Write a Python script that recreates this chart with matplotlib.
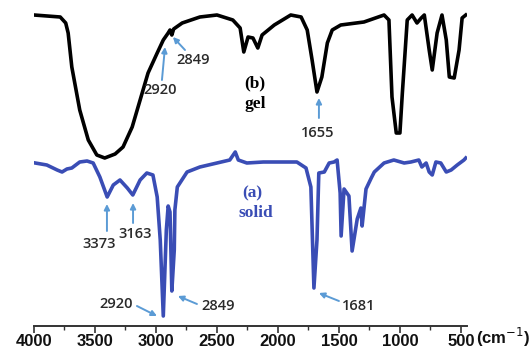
import matplotlib
matplotlib.use("Agg")
import matplotlib.pyplot as plt
import numpy as np

# (b) gel spectrum, wavenumber (cm-1) vs transmittance (a.u.)
gel_wn = [4000, 3785, 3740, 3720, 3690, 3625, 3555, 3485, 3420, 3335, 3270, 3195, 3130,
          3065, 2990, 2940, 2900, 2885, 2870, 2855, 2785, 2640, 2500, 2370, 2310,
          2280, 2245, 2205, 2165, 2130, 2030, 1895, 1810, 1760, 1720, 1680, 1640,
          1595, 1555, 1485, 1295, 1130, 1090, 1065, 1030, 1000, 980, 940, 900, 860,
          825, 800, 760, 735, 695, 655, 620, 595, 555, 515, 490, 460]
gel_t = [311, 309, 303, 293, 259, 216, 186, 171, 168, 172, 179, 199, 226,
         253, 273, 286, 293, 296, 291, 297, 303, 309, 311, 306, 298,
         274, 289, 288, 278, 291, 301, 311, 309, 296, 266, 234, 249,
         283, 296, 301, 304, 311, 306, 229, 193, 193, 233, 306, 311, 303,
         308, 311, 276, 256, 293, 311, 286, 249, 248, 276, 308, 311]

# (a) solid spectrum
solid_wn = [3990, 3895, 3810, 3770, 3730, 3690, 3625, 3565, 3515, 3460, 3400, 3350,
            3295, 3235, 3190, 3130, 3075, 3025, 2990, 2965, 2940, 2915, 2900, 2885,
            2870, 2850, 2845, 2825, 2745, 2640, 2500, 2395, 2350, 2325, 2255, 2120,
            1845, 1770, 1730, 1705, 1680, 1665, 1620, 1580, 1540, 1515, 1490, 1482,
            1458, 1418, 1392, 1350, 1320, 1310, 1278, 1235, 1210, 1130, 1050, 965,
            910, 845, 820, 785, 760, 735, 705, 665, 620, 580, 530, 475, 460]
solid_t = [163, 161, 156, 154, 157, 158, 164, 165, 163, 149, 129, 141,
           146, 138, 131, 146, 153, 151, 129, 86, 10, 96, 120, 114,
           35, 76, 116, 139, 154, 159, 163, 166, 174, 166, 163, 164,
           164, 158, 139, 38, 86, 153, 154, 163, 164, 166, 133, 90,
           137, 130, 75, 107, 118, 100, 137, 148, 154, 163, 166, 163,
           164, 166, 159, 163, 154, 151, 164, 163, 154, 156, 161, 166, 168]

# peak labels: text, text position, arrow tail, arrow head
peak_labels = ["2920", "2849", "1655", "3373", "3163", "2920", "2849", "1681"]
label_xy = [(2967, 236), (2697, 266), (1672, 193), (3467, 82), (3172, 92),
            (3328, 22), (2492, 20), (1336, 20)]
arrow_from = [(2951, 246), (2762, 276), (1664, 208), (3402, 95), (3188, 103),
              (3156, 20), (2664, 22), (1500, 25)]
arrow_to = [(2926, 279), (2861, 289), (1664, 228), (3402, 122), (3188, 123),
            (2992, 10), (2820, 30), (1664, 33)]

fig = plt.figure(figsize=(5.29, 3.52), dpi=100)
ax = fig.add_axes([34 / 529, 26 / 352, 433 / 529, 326 / 352])

ax.plot(gel_wn, gel_t, color="black", lw=2.6, solid_joinstyle="round")
ax.plot(solid_wn, solid_t, color="#3a4db5", lw=2.6, solid_joinstyle="round")

arrow_col = "#5b9bd5"
for lab, txy, a0, a1 in zip(peak_labels, label_xy, arrow_from, arrow_to):
    ax.text(txy[0], txy[1], lab, ha="center", va="center", fontsize=10.5,
            family="Open Sans", weight="semibold", color="#2a2a2a")
    ax.annotate("", xy=a1, xytext=a0,
                arrowprops=dict(arrowstyle="-|>", color=arrow_col, lw=1.4,
                                mutation_scale=8, shrinkA=0, shrinkB=0))

ax.text(2189, 243, "(b)", ha="center", va="center", fontsize=12.5,
        family="Liberation Serif", weight="bold", color="black")
ax.text(2189, 222, "gel", ha="center", va="center", fontsize=12.5,
        family="Liberation Serif", weight="bold", color="black")
ax.text(2213, 133, "(a)", ha="center", va="center", fontsize=12.5,
        family="Liberation Serif", weight="bold", color="#3a4db5")
ax.text(2180, 113, "solid", ha="center", va="center", fontsize=12.5,
        family="Liberation Serif", weight="bold", color="#3a4db5")

ax.set_xlim(4000, 450)
ax.set_ylim(0, 326)
for s in ["left", "right", "top"]:
    ax.spines[s].set_visible(False)
ax.spines["bottom"].set_color("#333333")
ax.spines["bottom"].set_linewidth(1.4)
ax.set_yticks([])
ax.set_xticks([4000, 3500, 3000, 2500, 2000, 1500, 1000, 500])
ax.set_xticks(np.arange(3750, 500, -500), minor=True)
ax.tick_params(axis="x", which="major", length=5, width=1.2, color="#333333",
               pad=1, labelsize=12)
ax.tick_params(axis="x", which="minor", length=3, width=1.0, color="#333333")
for t in ax.get_xticklabels():
    t.set_fontweight("bold")
    t.set_family("Liberation Sans")
    t.set_color("#111111")

fig.text(503 / 529, 1 - 337 / 352, "(cm$^{-1}$)", ha="center", va="center",
         fontsize=12, weight="bold", family="Liberation Sans", color="#111111")

fig.savefig("out.png", dpi=100)
